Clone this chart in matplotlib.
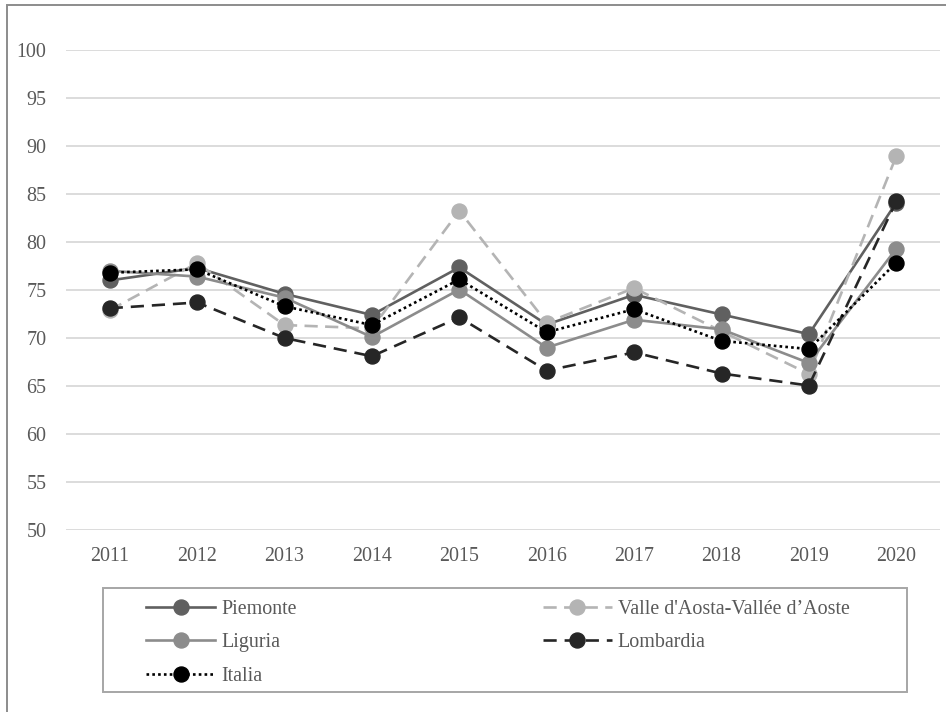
import matplotlib
matplotlib.use("Agg")
import matplotlib.pyplot as plt
from matplotlib.patches import Rectangle

years = ["2011", "2012", "2013", "2014", "2015", "2016", "2017", "2018", "2019", "2020"]
piemonte = [76.0, 77.3, 74.6, 72.4, 77.35, 71.4, 74.5, 72.45, 70.4, 84.1]
valle = [72.9, 77.8, 71.35, 71.0, 83.25, 71.6, 75.2, 70.7, 66.25, 88.95]
liguria = [77.0, 76.4, 74.2, 70.1, 75.05, 69.0, 71.9, 70.9, 67.4, 79.3]
lombardia = [73.1, 73.7, 70.0, 68.1, 72.15, 66.6, 68.5, 66.3, 65.05, 84.25]
italia = [76.8, 77.15, 73.3, 71.35, 76.1, 70.6, 73.0, 69.7, 68.85, 77.85]
yticks = [50, 55, 60, 65, 70, 75, 80, 85, 90, 95, 100]

plt.rcParams['font.family'] = ['Liberation Serif', 'DejaVu Serif']

W, H = 946, 712
fig = plt.figure(figsize=(W / 100, H / 100), dpi=100)

def fx(px):
    return px / W

def fy(py):
    return 1 - py / H

ax = fig.add_axes([fx(66), fy(530), fx(940) - fx(66), fy(50) - fy(530)])
x = list(range(len(years)))
lw = 1.9
ms = 10.8
txt = "#595959"

l_p, = ax.plot(x, piemonte, color="#606060", lw=lw, marker="o", ms=ms, label="Piemonte", zorder=3)
l_v, = ax.plot(x, valle, color="#b4b4b4", lw=lw, marker="o", ms=ms, dashes=(5, 2.8),
               label="Valle d'Aosta-Vallée d\u2019Aoste", zorder=4)
l_l, = ax.plot(x, liguria, color="#8c8c8c", lw=lw, marker="o", ms=ms, label="Liguria", zorder=5)
l_b, = ax.plot(x, lombardia, color="#262626", lw=lw, marker="o", ms=ms, dashes=(5, 3),
               label="Lombardia", zorder=6)
l_i, = ax.plot(x, italia, color="#000000", lw=lw, marker="o", ms=ms, dashes=(1, 1.2),
               label="Italia", zorder=7)

ax.set_xlim(-0.5, len(years) - 0.5)
ax.set_ylim(50, 100)
ax.set_xticks(x)
ax.set_xticklabels(years)
ax.set_yticks(yticks)
ax.set_yticklabels([str(v) for v in yticks])
ax.tick_params(axis="both", length=0, labelsize=14.4, colors=txt)
ax.tick_params(axis="y", pad=14)
ax.tick_params(axis="x", pad=12)
ax.grid(axis="y", color="#d9d9d9", lw=1.3)
ax.set_axisbelow(True)
for s in ax.spines.values():
    s.set_visible(False)

# outer frame
fig.patches.append(Rectangle((fx(7), fy(716)), fx(946), fy(5) - fy(716), transform=fig.transFigure,
                             fill=False, edgecolor="#8c8c8c", lw=1.4))
# legend frame
fig.patches.append(Rectangle((fx(103), fy(692)), fx(907) - fx(103), fy(588) - fy(692),
                             transform=fig.transFigure, fill=False, edgecolor="#a6a6a6", lw=1.4))

leg = fig.legend(handles=[l_p, l_l, l_i, l_v, l_b], ncol=2, loc="upper left",
                 bbox_to_anchor=(fx(146), fy(600)), frameon=False, borderpad=0,
                 borderaxespad=0, fontsize=14.4, handlelength=3.45, handletextpad=0.3,
                 columnspacing=12.3, labelspacing=0.72, labelcolor=txt)

fig.savefig("out.png", dpi=100, facecolor="white")
